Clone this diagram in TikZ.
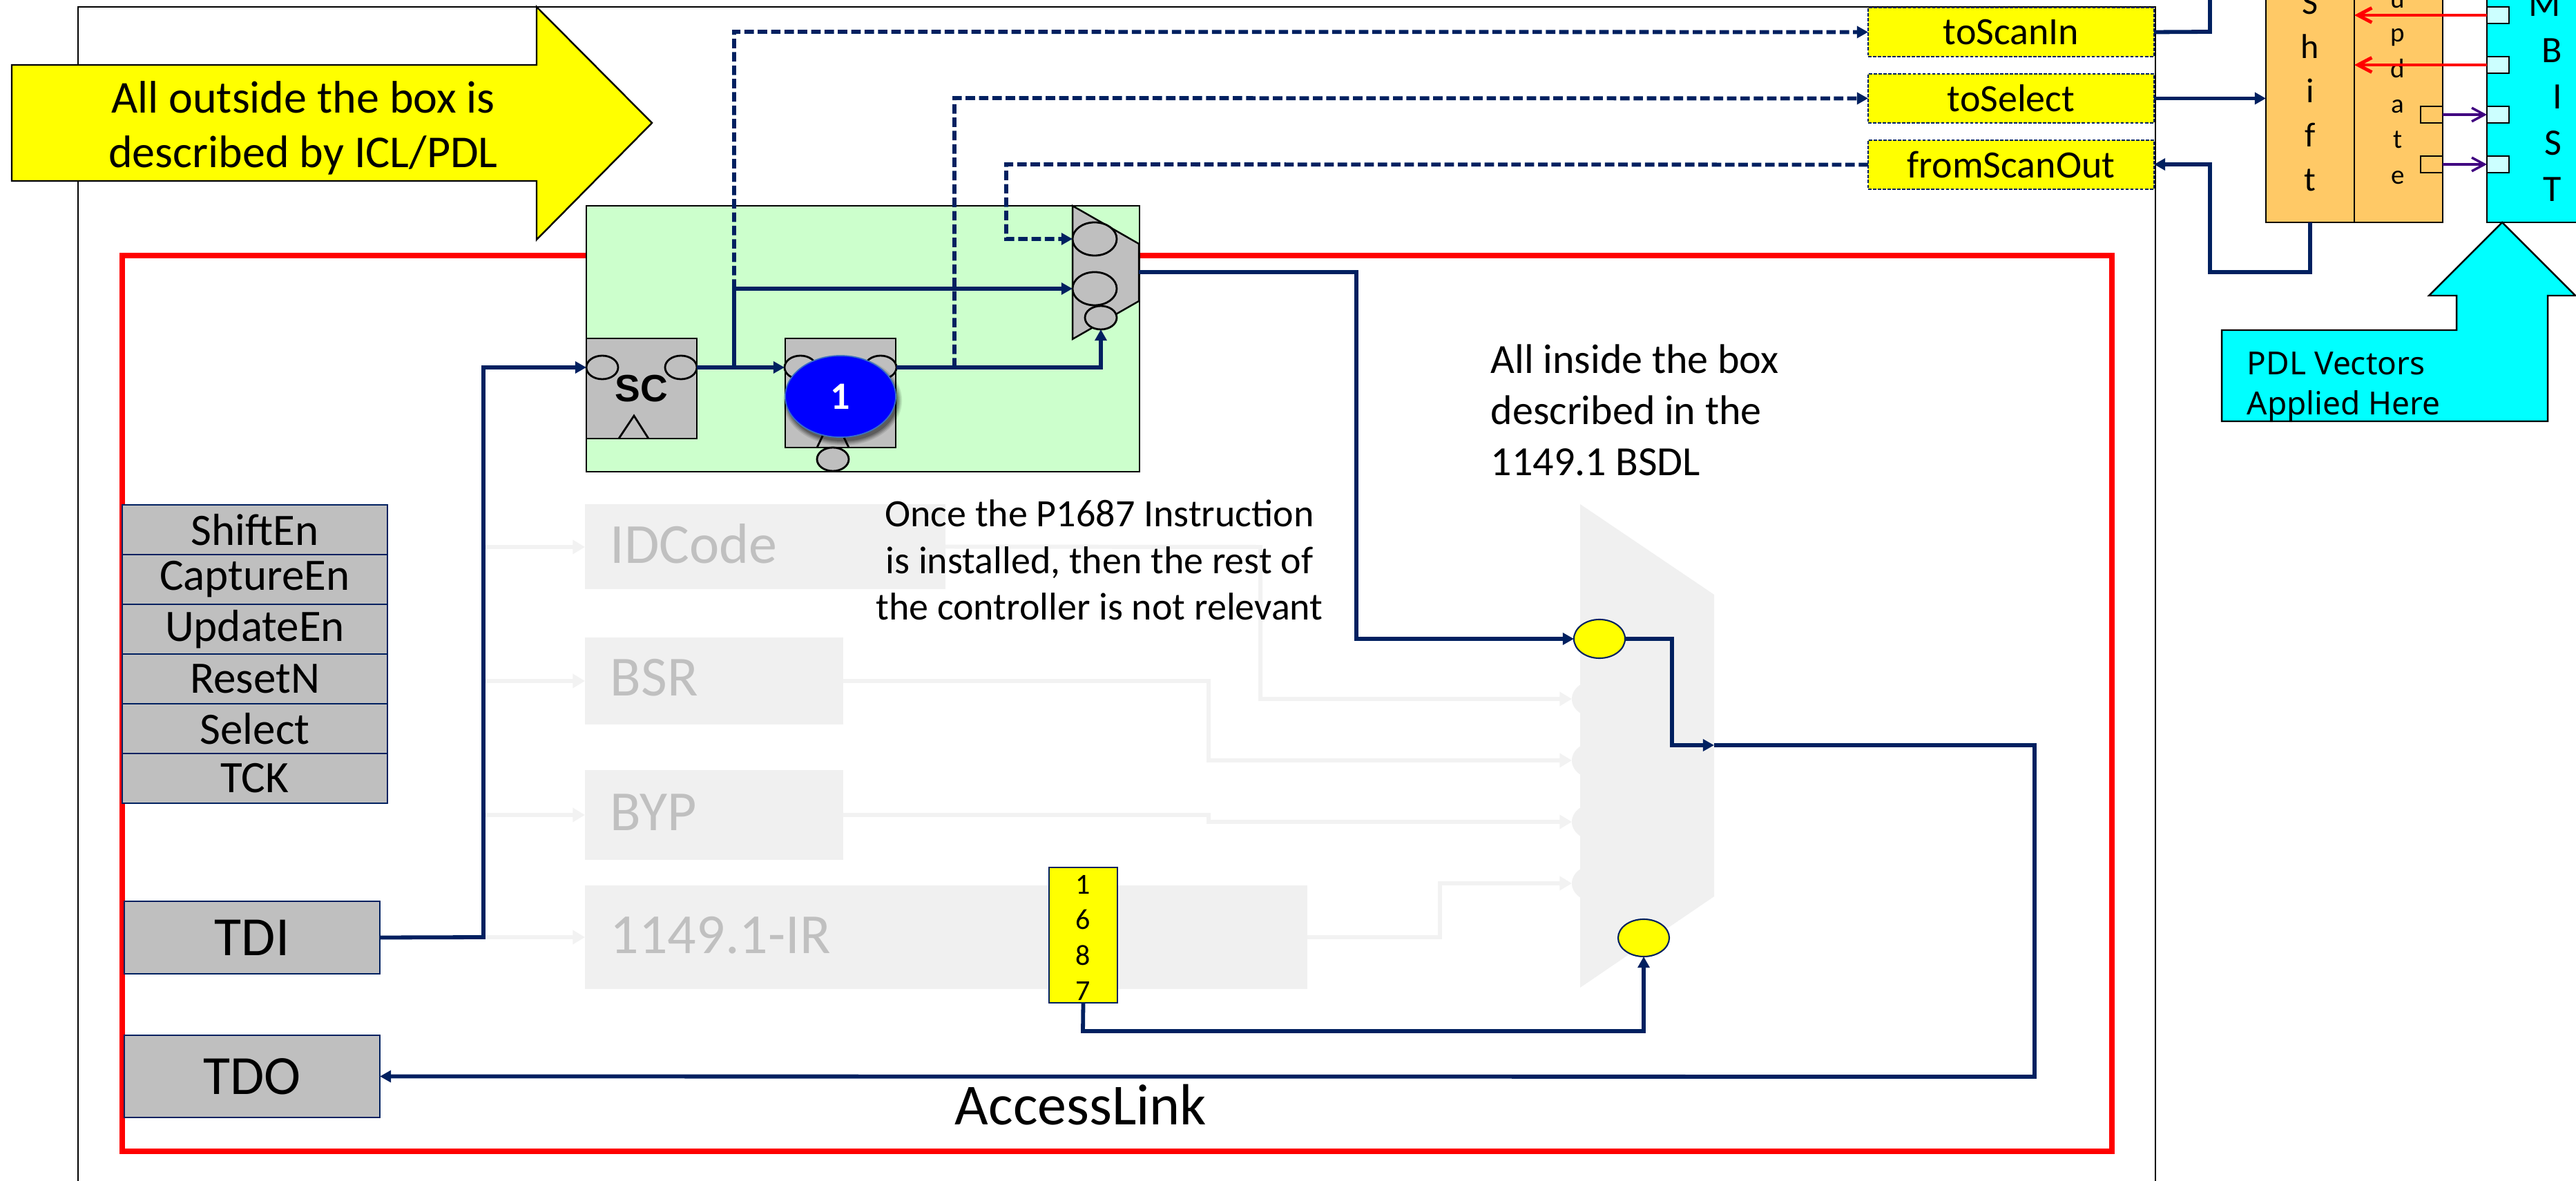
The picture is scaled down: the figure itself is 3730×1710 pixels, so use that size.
\documentclass[tikz,border=0pt]{standalone}
\usepackage{fontspec}
\setmainfont{Carlito}
\newfontfamily\tahomaish{Noto Sans}
\newfontfamily\arialish{Liberation Sans}
\usetikzlibrary{arrows.meta,shapes.geometric}
\definecolor{navy}{HTML}{002060}
\definecolor{greenfill}{HTML}{CCFFCC}
\definecolor{greyfill}{HTML}{BFBFBF}
\definecolor{faded}{HTML}{F0F0F0}
\definecolor{fadedwire}{HTML}{F2F2F2}
\definecolor{fadedtext}{HTML}{C0C0C0}
\definecolor{orangefill}{HTML}{FFC966}
\definecolor{paleblue}{HTML}{CCFFFF}
\definecolor{violetwire}{HTML}{400080}
\definecolor{bluerim}{HTML}{3A6FC4}
\definecolor{pureyellow}{HTML}{FFFF00}
\definecolor{purecyan}{HTML}{00FFFF}
\definecolor{purered}{HTML}{FF0000}
\definecolor{pureblue}{HTML}{0000FF}
\newcommand{\fs}[2]{\pgfmathsetmacro{\fsa}{#1*0.28453}\pgfmathsetmacro{\fsb}{#2*0.28453}\fontsize{\fsa pt}{\fsb pt}\selectfont}
% name, x1, y1, x2, y2, style, text
\newcommand{\pxbox}[7]{%
  \pgfmathsetmacro{\cxv}{(#2+#4)/2}\pgfmathsetmacro{\cyv}{(#3+#5)/2}%
  \pgfmathsetmacro{\wv}{(#4-#2)*0.01}\pgfmathsetmacro{\hv}{(#5-#3)*0.01}%
  \node[inner sep=0pt,outer sep=0pt,minimum width=\wv cm,minimum height=\hv cm,#6] (#1) at (\cxv,\cyv) {#7};}
% name, cx, cy, rx, ry, style, text
\newcommand{\pxell}[7]{%
  \pgfmathsetmacro{\wv}{#4*0.02}\pgfmathsetmacro{\hv}{#5*0.02}%
  \node[ellipse,inner sep=0pt,outer sep=0pt,minimum width=\wv cm,minimum height=\hv cm,#6] (#1) at (#2,#3) {#7};}
% name, x, baseline, text, font size
\newcommand{\pxtxt}[5]{\node[anchor=base,inner sep=0pt] (#1) at (#2,#3) {\fs{#5}{#5}#4};}
\tikzset{
  x=0.01cm,y=-0.01cm,
  wire/.style={draw=navy,line width=1.65pt},
  dashwire/.style={draw=navy,line width=1.65pt,dash pattern=on 3.9pt off 1.6pt},
  headed/.style={-{Triangle[length=4.6pt,width=4.8pt]}},
  ghostwire/.style={draw=fadedwire,line width=1.7pt,-{Triangle[length=5pt,width=5.6pt]}},
  ghostbox/.style={fill=faded},
  cell/.style={draw=navy,line width=.6pt,fill=greyfill},
  regbox/.style={draw=black,line width=.8pt,fill=greyfill},
  regcirc/.style={draw=black,line width=.8pt,fill=greyfill},
  port/.style={fill=pureyellow,draw=navy,line width=.5pt,dash pattern=on 1.3pt off .7pt},
  redwire/.style={draw=purered,line width=1.4pt,-{Straight Barb[length=5.7pt,width=6pt]}},
  violet/.style={draw=violetwire,line width=1pt,-{Straight Barb[length=5.2pt,width=5.6pt]}},
  keybox/.style={draw=black,line width=.6pt},
}
\begin{document}
\begin{tikzpicture}
\useasboundingbox (0,0) rectangle (3730,1710);
\clip (0,0) rectangle (3730,1710);
\fill[white] (0,0) rectangle (3730,1710);

% outer block and red AccessLink box
\pxbox{outer}{113}{10}{3121}{1760}{draw=black,line width=.7pt}{}
\pxbox{access}{177}{370}{3058}{1667}{draw=purered,line width=2.3pt}{}

% faded registers
\pxbox{idcode}{847}{730}{1369}{853}{ghostbox}{}
\pxbox{bsr}{847}{923}{1221}{1049}{ghostbox}{}
\pxbox{byp}{847}{1115}{1221}{1245}{ghostbox}{}
\pxbox{ir}{847}{1282}{1893}{1432}{ghostbox}{}
\node[anchor=west,inner sep=0pt,text=fadedtext] (idt) at (883,787) {\fs{82}{82}IDCode};
\node[anchor=west,inner sep=0pt,text=fadedtext] (bsrt) at (883,981) {\fs{82}{82}BSR};
\node[anchor=west,inner sep=0pt,text=fadedtext] (bypt) at (883,1176) {\fs{82}{82}BYP};
\node[anchor=west,inner sep=0pt,text=fadedtext] (irt) at (883,1354) {\fs{82}{82}1149.1-IR};

% faded mux
\fill[faded] (2288,730) -- (2482,861) -- (2482,1298) -- (2288,1430) -- cycle;
\pxell{g1}{2314}{1012}{38}{28}{fill=faded}{}
\pxell{g2}{2314}{1101}{38}{28}{fill=faded}{}
\pxell{g3}{2314}{1190}{38}{28}{fill=faded}{}
\pxell{g4}{2314}{1279}{38}{28}{fill=faded}{}

% faded wires
\coordinate (ga) at (702,792);
\coordinate (gb) at (702,986);
\coordinate (gc) at (702,1180);
\coordinate (gd) at (702,1357);
\draw[ghostwire] (ga) -- (idcode.west |- ga);
\draw[ghostwire] (gb) -- (bsr.west);
\draw[ghostwire] (gc) -- (byp.west);
\draw[ghostwire] (gd) -- (ir.west);
\draw[ghostwire] (idcode.east) -- (1825,792) |- (g1.west);
\draw[ghostwire] (bsr.east) -- (1750,986) |- (g2.west);
\draw[ghostwire] (byp.east) -- (1750,1180) |- (g3.west);
\draw[ghostwire] (ir.east) -- (2085,1357) |- (g4.west);

% signal stack
\pxbox{s1}{177}{731}{561}{803}{cell}{\fs{65}{65}ShiftEn}
\pxbox{s2}{177}{803}{561}{875}{cell}{\fs{65}{65}CaptureEn}
\pxbox{s3}{177}{875}{561}{947}{cell}{\fs{65}{65}UpdateEn}
\pxbox{s4}{177}{947}{561}{1019}{cell}{\fs{65}{65}ResetN}
\pxbox{s5}{177}{1019}{561}{1091}{cell}{\fs{65}{65}Select}
\pxbox{s6}{177}{1091}{561}{1163}{cell}{\fs{65}{65}TCK}
\pxbox{tdi}{180}{1305}{550}{1410}{cell}{\fs{80}{80}TDI}
\pxbox{tdo}{180}{1499}{550}{1618}{cell}{\fs{80}{80}TDO}

% green SIB block
\pxbox{green}{849}{298}{1650}{683}{fill=greenfill,draw=black,line width=.8pt}{}
\pxbox{sca}{849}{490}{1009}{635}{regbox}{}
\pxbox{scb}{1137}{490}{1297}{648}{regbox}{}
\pxell{sain}{872}{532}{23}{17}{regcirc}{}
\pxell{saout}{986}{532}{23}{17}{regcirc}{}
\draw[black,line width=.8pt] (896,635) -- (918,602) -- (939,635);
\node[inner sep=0pt] (sclabel) at (929,563) {\arialish\bfseries\fs{55}{55}SC};
\pxell{sbin}{1159}{532}{23}{17}{regcirc}{}
\pxell{sbout}{1275}{532}{23}{17}{regcirc}{}
\draw[black,line width=.8pt] (1183,648) -- (1206,600) -- (1229,648);
\pxell{sbclk}{1206}{665}{23}{17}{regcirc}{}
\foreach \grow/\alp in {6/.10,4/.14,2/.18,0/.22}{
  \pgfmathsetmacro{\shw}{(80+\grow)*0.02}\pgfmathsetmacro{\shh}{(59+\grow)*0.02}
  \node[ellipse,inner sep=0pt,minimum width=\shw cm,minimum height=\shh cm,fill=black,opacity=\alp] at (1220,580) {};
}
\pxell{one}{1217}{574}{80}{59}{fill=pureblue,draw=bluerim,line width=.5pt,text=white}{\bfseries\fs{56}{56}1}

% small mux
\filldraw[fill=greyfill,draw=black,line width=.7pt] (1553,298) -- (1649,353) -- (1649,436) -- (1553,491) -- cycle;
\pxell{ma}{1585}{346}{32}{24}{regcirc}{}
\pxell{mb}{1585}{418}{32}{24}{regcirc}{}
\pxell{mc}{1594}{460}{23}{17}{regcirc}{}
\coordinate (muxout) at (1649,394);

% scan ports
\pxbox{toscan}{2705}{11}{3119}{82}{port}{\fs{56}{56}toScanIn}
\pxbox{tosel}{2705}{107}{3119}{178}{port}{\fs{56}{56}toSelect}
\pxbox{fromscan}{2705}{203}{3119}{274}{port}{\fs{56}{56}fromScanOut}

% main mux ports
\pxell{ya}{2316}{925}{37}{28}{fill=pureyellow,draw=navy,line width=.6pt}{}
\pxell{yb}{2380}{1358}{37}{27}{fill=pureyellow,draw=navy,line width=.6pt}{}
\coordinate (muxin) at (2482,1079);

% 1687 tag
\pxbox{tag}{1519}{1256}{1618}{1452}{fill=pureyellow,draw=navy,line width=.6pt}{}
\node[align=center,inner sep=0pt,font={\fs{42}{51.5}}] (tagtext) at (1568,1358) {1\\6\\8\\7};

% solid wires
\draw[wire,headed] (tdi.east) -- (700,1357) |- (sain.west);
\draw[wire,headed] (saout.east) -- (sbin.west);
\coordinate (brA) at (1063,532);
\coordinate (brB) at (1063,418);
\draw[wire,headed] (brA) -- (brB) -- (mb.west);
\draw[dashwire,headed] (brB) -- (1063,46) -- (toscan.west);
\coordinate (brC) at (1382,532);
\draw[wire,headed] (sbout.east) -| (mc.south);
\draw[dashwire,headed] (brC) -- (1382,142) -- (tosel.west);
\draw[dashwire,headed] (fromscan.west) -- (1457,238) -- (1457,346) -- (ma.west);
\draw[wire,headed] (muxout) -- (1964,394) -- (1964,925) -- (ya.west);
\draw[wire,headed] (ya.east) -- (2421,925) -- (2421,1079) -- (muxin);
\draw[wire,headed] (muxin) -- (2946,1079) -- (2946,1559) -- (tdo.east);
\draw[wire,headed] (tag.south) -- (1568,1493) -- (2380,1493) -- (yb.south);

% labels
\node[anchor=base,inner sep=0pt] (al) at (1565,1628) {\fs{84}{84}AccessLink};
\node[anchor=west,align=left,inner sep=0pt,font={\fs{60}{74}}] (inbox) at (2158,594) {All inside the box\\described in the\\1149.1 BSDL};
\node[align=center,inner sep=0pt,font={\fs{56}{67.5}}] (once) at (1592,811) {Once the P1687 Instruction\\is installed, then the rest of\\the controller is not relevant};

% yellow arrow
\filldraw[fill=pureyellow,draw=black,line width=.7pt] (17,94) -- (777,94) -- (777,10) -- (944,178) -- (777,347) -- (777,262) -- (17,262) -- cycle;
\node[align=center,inner sep=0pt,font={\fs{66}{79}}] (outside) at (439,185) {All outside the box is\\described by ICL/PDL};

% right side: Shift / Update / MBIST
\pxbox{shift}{3281}{-20}{3409}{322}{fill=orangefill,draw=black,line width=.8pt}{}
\pxbox{update}{3409}{-20}{3537}{322}{fill=orangefill,draw=black,line width=.8pt}{}
\pxtxt{ls1}{3345}{21}{S}{50}
\pxtxt{ls2}{3345}{85}{h}{50}
\pxtxt{ls3}{3345}{149}{i}{50}
\pxtxt{ls4}{3345}{213}{f}{50}
\pxtxt{ls5}{3345}{277}{t}{50}
\pxtxt{lu1}{3472}{12}{u}{39}
\pxtxt{lu2}{3472}{61}{p}{39}
\pxtxt{lu3}{3472}{113}{d}{39}
\pxtxt{lu4}{3472}{164}{a}{39}
\pxtxt{lu5}{3472}{215}{t}{39}
\pxtxt{lu6}{3472}{267}{e}{39}
\pxbox{ua}{3505}{154}{3537}{178}{keybox}{}
\pxbox{ub}{3505}{226}{3537}{250}{keybox}{}
\pxbox{mbist}{3601}{-20}{3750}{322}{fill=purecyan,draw=black,line width=.8pt}{}
\pxtxt{lm1}{3685}{24}{M}{54}
\pxtxt{lm2}{3695}{91}{B}{54}
\pxtxt{lm3}{3703}{158}{I}{54}
\pxtxt{lm4}{3697}{225}{S}{54}
\pxtxt{lm5}{3696}{292}{T}{54}
\pxbox{pa}{3601}{10}{3633}{34}{fill=paleblue,keybox}{}
\pxbox{pb}{3601}{82}{3633}{106}{fill=paleblue,keybox}{}
\pxbox{pc}{3601}{154}{3633}{178}{fill=paleblue,keybox}{}
\pxbox{pd}{3601}{226}{3633}{250}{fill=paleblue,keybox}{}
\coordinate (shA) at (3409,22);
\coordinate (shB) at (3409,94);
\draw[redwire] (pa.west) -- (shA);
\draw[redwire] (pb.west) -- (shB);
\draw[violet] (ua.east) -- (pc.west);
\draw[violet] (ub.east) -- (pd.west);
\draw[wire] (toscan.east) -- (3200,46) -- (3200,-20);
\draw[wire,headed] (tosel.east) -- (tosel.east -| shift.west);
\coordinate (shbot) at (3345,322);
\draw[wire,headed] (shbot) -- (3345,394) -- (3200,394) -- (3200,238) -- (3119,238);

% cyan callout
\filldraw[fill=purecyan,draw=black,line width=.7pt] (3623,322) -- (3729,428) -- (3689,428) -- (3689,610) -- (3217,610) -- (3217,478) -- (3557,478) -- (3557,428) -- (3517,428) -- cycle;
\node[anchor=west,align=left,inner sep=0pt,font={\tahomaish\fs{46}{58}}] (pdl) at (3253,561) {PDL Vectors\\Applied Here};
\end{tikzpicture}
\end{document}
